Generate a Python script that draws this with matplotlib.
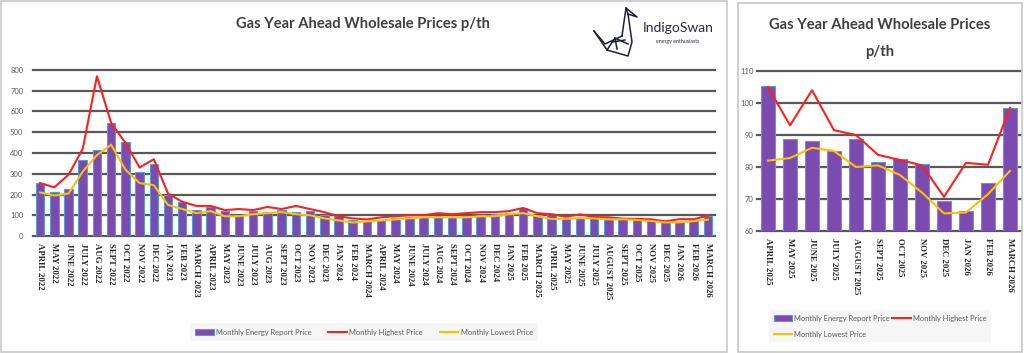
import matplotlib
matplotlib.use("Agg")
import matplotlib.pyplot as plt
from matplotlib.patches import Rectangle, Patch
from matplotlib.lines import Line2D

# data (p/th)
months_all = ["APRIL 2022", "MAY 2022", "JUNE 2022", "JULY 2022", "AUG 2022", "SEPT 2022",
              "OCT 2022", "NOV 2022", "DEC 2022", "JAN 2023", "FEB 2023", "MARCH 2023",
              "APRIL 2023", "MAY 2023", "JUNE 2023", "JULY 2023", "AUG 2023", "SEPT 2023",
              "OCT 2023", "NOV 2023", "DEC 2023", "JAN 2024", "FEB 2024", "MARCH 2024",
              "APRIL 2024", "MAY 2024", "JUNE 2024", "JULY 2024", "AUG 2024", "SEPT 2024",
              "OCT 2024", "NOV 2024", "DEC 2024", "JAN 2025", "FEB 2025", "MARCH 2025",
              "APRIL 2025", "MAY 2025", "JUNE 2025", "JULY 2025", "AUGUST 2025", "SEPT 2025",
              "OCT 2025", "NOV 2025", "DEC 2025", "JAN 2026", "FEB 2026", "MARCH 2026"]
report_all = [255, 210, 225, 365, 415, 545, 455, 310, 345, 200, 165, 125,
              140, 120, 100, 120, 115, 125, 115, 120, 100, 95, 75, 70,
              75, 85, 90, 90, 95, 90, 95, 100, 105, 110, 135, 100,
              105.3, 88.8, 88.2, 85.0, 88.6, 81.7, 82.4, 80.8, 69.5, 66.3, 75.0, 98.5]
high_all = [255, 235, 295, 420, 770, 545, 450, 330, 370, 205, 165, 145,
            145, 125, 130, 125, 140, 130, 145, 130, 115, 95, 85, 80,
            90, 95, 100, 100, 110, 105, 110, 115, 115, 120, 135, 110,
            105.0, 93.0, 104.0, 91.5, 90.0, 83.8, 82.2, 80.5, 70.7, 81.3, 80.7, 98.5]
low_all = [210, 195, 205, 310, 390, 440, 320, 255, 245, 150, 130, 110,
           120, 95, 95, 105, 110, 115, 105, 100, 85, 75, 65, 70,
           75, 80, 85, 90, 90, 90, 90, 95, 95, 105, 110, 95,
           82.0, 82.8, 86.0, 85.0, 80.0, 80.5, 77.5, 72.0, 65.5, 65.8, 71.5, 78.8]

# last 12 months shown on the right panel
months_recent = months_all[-12:]
report_recent = report_all[-12:]
high_recent = high_all[-12:]
low_recent = low_all[-12:]

W, H = 1024, 353
BAR = "#7b4bb0"
EDGE = "#5b9bd5"
RED = "#ff1f1f"
YEL = "#ffc000"
GRID = "#595959"

fig = plt.figure(figsize=(W / 100, H / 100), dpi=100)
fig.patch.set_facecolor("white")


def px_axes(x0, y0, x1, y1):
    # axes from pixel box (top-left origin)
    return fig.add_axes([x0 / W, 1 - y1 / H, (x1 - x0) / W, (y1 - y0) / H])


def draw(ax, labels, rep, hi, lo, ymin, ymax, step, ypad):
    x = list(range(len(labels)))
    ax.bar(x, rep, width=0.6, color=BAR, edgecolor=EDGE, linewidth=0.8, zorder=2)
    ax.plot(x, hi, color=RED, lw=1.5, zorder=3)
    ax.plot(x, lo, color=YEL, lw=1.5, zorder=3)
    ax.set_xlim(-0.5, len(labels) - 0.5)
    ax.set_ylim(ymin, ymax)
    ticks = list(range(ymin, ymax + 1, step))
    for t in ticks:
        ax.axhline(t, color=GRID, lw=1.6, zorder=1, clip_on=False)
    ax.set_yticks(ticks)
    ax.set_xticks(x)
    ax.set_xticklabels(labels, rotation=-90, family="Liberation Serif",
                       fontsize=6.3, fontweight="bold", color="#262626")
    for lab in ax.get_yticklabels():
        lab.set_fontsize(5.5)
        lab.set_color("#595959")
        lab.set_family("Lato")
    ax.tick_params(axis="x", length=0, pad=5)
    ax.tick_params(axis="y", length=0, pad=ypad)
    for s in ax.spines.values():
        s.set_visible(False)
    ax.set_facecolor("none")


# panel frames
fig.add_artist(Rectangle((1 / W, 1 / H), 726 / W, 351 / H, transform=fig.transFigure,
                         fill=False, edgecolor="#c8c8c8", lw=1.2))
fig.add_artist(Rectangle((738 / W, 1 / H), 284 / W, 349 / H, transform=fig.transFigure,
                         fill=False, edgecolor="#c8c8c8", lw=1.2))

# left panel
ax1 = px_axes(33, 70, 715, 236)
draw(ax1, months_all, report_all, high_all, low_all, 0, 800, 100, 7)
fig.text(363 / W, 1 - 24 / H, "Gas Year Ahead Wholesale Prices p/th", ha="center", va="center",
         fontsize=10.6, fontweight="bold", color="#404040", family="Lato")

# logo
swan = [[(594, 31), (607, 50), (628, 56), (632, 42), (628, 14), (637, 17), (626, 8), (622, 36)],
        [(594, 31), (605, 44), (622, 36)],
        [(607, 50), (615, 38), (628, 44)],
        [(615, 38), (617, 49)],
        [(612, 42), (625, 40)],
        [(626, 8), (628, 14)]]
for seg in swan:
    xs = [p[0] / W for p in seg]
    ys = [1 - p[1] / H for p in seg]
    fig.add_artist(Line2D(xs, ys, transform=fig.transFigure, color="#1f1f3a", lw=1.1))
fig.text(678 / W, 1 - 28 / H, "IndigoSwan", ha="center", va="center", fontsize=10,
         color="#2a2a48", family="Lato")
fig.text(678 / W, 1 - 42 / H, "energy enthusiasts", ha="center", va="center", fontsize=3.8,
         color="#2a2a48", family="Lato")

h_bar = Patch(facecolor=BAR, edgecolor=EDGE, lw=0.8)
h_hi = Line2D([], [], color=RED, lw=1.5)
h_lo = Line2D([], [], color=YEL, lw=1.5)
n_bar = "Monthly Energy Report Price"
n_hi = "Monthly Highest Price"
n_lo = "Monthly Lowest Price"

leg1 = fig.legend([h_bar, h_hi, h_lo], [n_bar, n_hi, n_lo], loc="center",
                  bbox_to_anchor=(364 / W, 1 - 332 / H),
                  ncol=3, frameon=True, handlelength=2.5, handleheight=0.9,
                  columnspacing=2.2, handletextpad=0.3, borderpad=0.7,
                  prop={"family": "Lato", "size": 5.4})
leg1.get_frame().set_facecolor("#f4f4f4")
leg1.get_frame().set_edgecolor("none")
for t in leg1.get_texts():
    t.set_color("#595959")

# right panel
ax2 = px_axes(757, 71, 1021, 231)
draw(ax2, months_recent, report_recent, high_recent, low_recent, 60, 110, 10, 2.5)
fig.text(880 / W, 1 - 25 / H, "Gas Year Ahead Wholesale Prices", ha="center", va="center",
         fontsize=10.6, fontweight="bold", color="#404040", family="Lato")
fig.text(880 / W, 1 - 52 / H, "p/th", ha="center", va="center",
         fontsize=10.6, fontweight="bold", color="#404040", family="Lato")

# column-major fill: order gives row 1 = bar, highest; row 2 = lowest
leg2 = fig.legend([h_bar, h_lo, h_hi], [n_bar, n_lo, n_hi], loc="center",
                  bbox_to_anchor=(880 / W, 1 - 326 / H),
                  ncol=2, frameon=True, handlelength=2.5, handleheight=0.9,
                  columnspacing=0.2, handletextpad=0.3, borderpad=0.6, labelspacing=1.2,
                  prop={"family": "Lato", "size": 5.4})
leg2.get_frame().set_facecolor("#f4f4f4")
leg2.get_frame().set_edgecolor("none")
for t in leg2.get_texts():
    t.set_color("#595959")

fig.savefig("out.png", dpi=100)
